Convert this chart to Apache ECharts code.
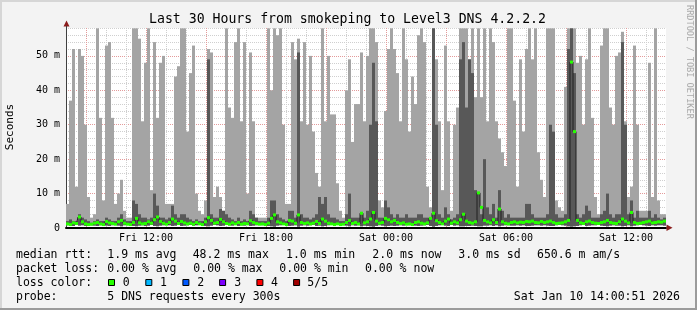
<!DOCTYPE html>
<html><head><meta charset="utf-8">
<script src="https://cdn.jsdelivr.net/npm/echarts@6/dist/echarts.min.js"></script>
<style>html,body{margin:0;padding:0;background:#f3f3f3}#c{width:697px;height:310px}</style>
</head><body><div id="c"></div><script>
// ---- data (9-minute bins, Fri 08:00 -> Sat 14:00) ----
const hoursSpan = 30;
const tickHours = [4, 10, 16, 22, 28];
const tickLabels = ['Fri 12:00', 'Fri 18:00', 'Sat 00:00', 'Sat 06:00', 'Sat 12:00'];
const yTickValues = [0, 10, 20, 30, 40, 50];
const yTickLabels = ['0', '10 m', '20 m', '30 m', '40 m', '50 m'];

// bottom of smoke (ms)
const smokeLow = [
0.8,0.7,0.6,0.9,0.7,0.8,0.6,0.9,0.8,0.7,
0.6,0.8,0.9,0.7,0.6,0.8,0.9,0.7,0.5,0.8,
0.9,0.8,0.6,0.5,0.7,0.8,0.6,0.7,0.9,0.6,
0.5,0.7,0.8,0.9,0.8,0.6,0.7,0.9,0.6,0.7,
0.8,0.9,0.7,0.8,0.9,0.8,0.6,0.5,0.7,0.9,
0.8,0.6,0.7,0.9,0.8,0.7,0.9,0.6,0.8,0.7,
0.9,0.6,0.7,0.8,0.9,0.8,0.9,0.6,0.5,0.4,
0.7,0.8,0.9,0.9,0.6,0.7,0.8,0.4,0.7,0.8,
0.7,0.8,0.9,0.6,0.7,0.5,0.6,0.8,0.9,0.8,
0.9,0.8,0.9,0.7,0.5,0.8,0.7,0.8,0.5,0.7,
0.6,0.5,0.4,0.6,0.8,0.7,0.5,0.6,0.7,0.6,
0.7,0.8,0.7,0.9,0.8,0.9,0.7,0.6,0.7,0.8,
0.9,0.6,0.4,0.6,0.8,0.9,0.7,0.6,0.9,0.7,
0.8,0.5,0.5,0.6,0.6,0.7,0.6,0.5,0.5,0.7,
0.7,0.8,0.6,0.8,0.5,0.7,0.8,0.8,0.7,0.7,
0.8,0.7,0.8,0.6,0.6,0.7,0.8,0.8,0.7,0.8,
0.7,0.6,0.6,0.8,0.9,0.8,0.7,0.5,0.4,0.5,
0.6,0.8,0.9,0.6,0.7,0.8,0.8,0.9,0.7,0.6,
0.5,0.7,0.8,0.7,0.7,0.5,0.6,0.8,0.5,0.7,
0.8,0.9,0.8,0.7,0.6,0.8,0.7,0.8,0.8,0.7];

// top of outer (light) smoke band = slowest ping (ms)
const smokeHigh = [
7,37,52,12,52,50,30,9,3,4,
58,32,8,53,54,32,7,10,14,5,
3,3,58,58,55,31,48,58,11,54,
32,48,50,7,7,7,44,47,58,58,
28,45,53,10,5,4,8,52,51,9,
12,9,5,58,35,32,54,58,31,54,
10,51,31,3,3,3,3,58,40,58,
56,58,30,7,7,54,49,55,31,54,
30,50,28,16,12,58,31,50,33,33,
13,5,3,40,49,25,36,36,51,31,
50,58,58,54,8,6,34,52,58,52,
45,31,58,49,28,44,36,56,58,54,
12,6,58,49,31,11,53,31,5,30,
35,58,58,58,49,58,38,58,38,58,
31,58,54,31,26,22,18,58,58,37,
12,49,28,52,58,49,58,22,14,9,
58,58,58,8,6,5,41,58,58,58,
48,50,30,49,58,32,9,4,53,58,
58,35,30,50,51,57,31,9,12,53,
30,5,5,5,48,9,58,8,4,4];

// top of inner (dark) smoke band (ms)
const smokeDark = [
2,2.5,2,2,4,3,2.5,2,1.5,2,
2.5,2,2,3,2.5,2,2,3,4,2.5,
2,2,8,7,4,3,3,2.5,3,10,
6.5,3,3,2.5,3,6.5,4,3,4,4,
3,2.5,2,2.5,2,2,3,49,4,3,
3,5.5,5,4,3,2.5,2,3,2,2.5,
2,5,4,3,2,2,2,3,8,8,
4,3,2.5,2,5,5,3,51,4,3,
3,2.5,3,4,9,7,9,4,3,3,
2.5,2,2,4,10,3,3,3,4,3,
5,30,48,31,3,3,8,6,4,3,
4,3,3,4,3,3,3,4,4,3,
3,3,58,30,4,3,6,4,2.5,3,
4,49,54,35,49,45,11,10,4,20,
6,4,7,3,11,5,3,4,3,3,
3,3,3,7,7,4,3,3,3,3,
4,30,28,4,3,3,4,52,58,45,
4,3,4,6.5,5,3,3,3,4,5,
10,4,3,4,4,54,30,4,8,3,
5,3,3,3,5,3,4,3,2.5,3];

// median rtt (ms)
const medianRtt = [
1.2,1.0,1.5,1.3,3.2,1.8,1.2,1.0,1.1,1.4,
1.6,1.2,1.0,1.9,1.5,1.3,1.1,1.8,2.2,1.4,
1.1,1.0,1.6,2.8,1.5,1.2,1.3,1.8,1.4,2.4,
3.2,1.9,1.4,1.1,1.6,2.6,2.0,1.3,1.9,1.5,
1.2,1.4,1.1,1.6,1.2,1.0,1.8,3.0,2.2,1.4,
1.6,2.5,1.8,1.3,1.1,1.5,1.2,1.6,1.1,1.3,
1.2,2.1,1.6,1.3,1.1,1.2,1.0,1.4,2.8,3.8,
1.8,1.5,1.2,1.0,2.2,2.0,1.4,3.8,1.6,1.3,
1.5,1.2,1.4,1.9,1.3,2.6,2.0,1.4,1.2,1.0,
1.2,1.0,1.1,1.6,2.2,1.3,1.6,1.2,4.3,1.5,
1.8,2.6,4.5,2.0,1.4,1.6,2.8,2.4,1.8,2.2,
1.6,1.3,1.5,1.1,1.2,1.0,1.6,1.8,1.4,1.2,
1.5,2.8,4.3,2.1,1.6,1.2,2.0,2.6,1.4,1.8,
1.5,2.4,4.0,2.0,1.6,1.4,1.8,10.2,6.0,2.2,
1.8,1.5,2.4,1.6,5.5,1.8,1.4,1.2,1.6,1.8,
1.5,1.7,1.6,1.9,1.8,2.0,1.6,1.5,1.9,1.6,
1.8,2.0,1.6,1.3,1.4,1.5,1.8,2.2,48.2,28.0,
2.2,1.5,1.3,1.8,2.0,1.6,1.4,1.3,1.6,1.8,
2.2,1.6,1.4,1.3,1.8,2.6,2.0,1.5,4.5,1.6,
1.3,1.4,1.6,1.8,2.0,1.5,1.6,1.8,1.7,2.0];

const lossLabels = ['0', '1', '2', '3', '4', '5/5'];
const lossColors = ['#26ff00', '#00b8ff', '#0059ff', '#7e00ff', '#ff0000', '#a10000'];

// ---- chart ----
const N = smokeHigh.length;
const smokeData = smokeHigh.map((h, i) => [i, smokeLow[i], h, smokeDark[i]]);
const medLine = medianRtt.map((m, i) => [i + 0.5, m]);
const medBand = medianRtt.map((m, i) => [i, m]);

const FONT = 'DejaVu Sans Mono';
const GRID_MINOR = '#cfcfcf';
const GRID_MAJOR = '#e39a9a';

function renderSmoke(params, api) {
  const i = api.value(0), lo = api.value(1), hi = api.value(2), dk = api.value(3);
  const a = api.coord([i, hi]);
  const b = api.coord([i + 1, lo]);
  const c = api.coord([i, dk]);
  const w = b[0] - a[0];
  const children = [{ type: 'rect', shape: { x: a[0], y: a[1], width: w, height: b[1] - a[1] }, style: { fill: '#a4a4a4' } }];
  if (dk > lo) children.push({ type: 'rect', shape: { x: a[0], y: c[1], width: w, height: b[1] - c[1] }, style: { fill: '#585858' } });
  return { type: 'group', children };
}
function renderMedian(params, api) {
  const i = api.value(0), m = api.value(1);
  const a = api.coord([i, m]);
  const b = api.coord([i + 1, m]);
  return { type: 'rect', shape: { x: a[0], y: a[1] - 1.5, width: b[0] - a[0], height: 3 }, style: { fill: lossColors[0] } };
}

const text = (x, y, t, extra) => Object.assign({ type: 'text', x, y, style: Object.assign({ text: t, font: '11.5px "' + FONT + '"', fill: '#000', verticalAlign: 'middle' }, extra || {}) });

const graphics = [];
// frame shading
graphics.push({ type: 'rect', shape: { x: 0, y: 0, width: 697, height: 2 }, style: { fill: '#d6d6d6' } });
graphics.push({ type: 'rect', shape: { x: 0, y: 0, width: 2, height: 310 }, style: { fill: '#d6d6d6' } });
graphics.push({ type: 'rect', shape: { x: 0, y: 308, width: 697, height: 2 }, style: { fill: '#9b9b9b' } });
graphics.push({ type: 'rect', shape: { x: 695, y: 0, width: 2, height: 310 }, style: { fill: '#9b9b9b' } });
// title
graphics.push(text(347.5, 19.5, 'Last 30 Hours from smokeping to Level3 DNS 4.2.2.2', { font: '13.2px "' + FONT + '"', align: 'center' }));
// y name
graphics.push({ type: 'text', x: 10.5, y: 127, rotation: Math.PI / 2, style: { text: 'Seconds', font: '11px "' + FONT + '"', fill: '#000', align: 'center', verticalAlign: 'middle' } });
// watermark
graphics.push({ type: 'text', x: 689, y: 5, rotation: -Math.PI / 2, style: { text: 'RRDTOOL / TOBI OETIKER', font: '8.6px "' + FONT + '"', fill: '#aaaaaa', align: 'left', verticalAlign: 'middle' } });
// arrows
graphics.push({ type: 'polygon', shape: { points: [[63.5, 26.5], [69.5, 26.5], [66.5, 20.5]] }, style: { fill: '#8b1c1c' }, z: 100 });
graphics.push({ type: 'line', shape: { x1: 66.5, y1: 26, x2: 66.5, y2: 28 }, style: { stroke: '#404040', lineWidth: 1 }, z: 100 });
graphics.push({ type: 'polygon', shape: { points: [[666.5, 224.5], [666.5, 231], [672.5, 227.7]] }, style: { fill: '#8b1c1c' }, z: 100 });
// legend rows
const rows = [
  [255, [[16, 'median rtt:'], [107.3, '1.9 ms avg'], [192.7, '48.2 ms max'], [286, '1.0 ms min'], [372.3, '2.0 ms now'], [458.3, '3.0 ms sd'], [537, '650.6 m am/s']]],
  [269, [[16, 'packet loss:'], [107.3, '0.00 % avg'], [193.3, '0.00 % max'], [279.3, '0.00 % min'], [365, '0.00 % now']]],
  [283, [[16, 'loss color:']]],
  [297, [[16, 'probe:'], [107.3, '5 DNS requests every 300s']]]
];
rows.forEach(r => r[1].forEach(it => graphics.push(text(it[0], r[0], it[1]))));
const boxX = [108.5, 145.8, 182.9, 219.6, 256.9, 293.6];
const labX = [122.7, 160, 197.3, 234.3, 271, 307.3];
lossLabels.forEach((l, k) => {
  graphics.push({ type: 'rect', shape: { x: boxX[k], y: 279.5, width: 6, height: 6 }, style: { fill: lossColors[k], stroke: '#000', lineWidth: 1 } });
  graphics.push(text(labX[k], 283, l));
});
graphics.push(text(680, 297, 'Sat Jan 10 14:00:51 2026', { align: 'right' }));

const option = {
  animation: false,
  backgroundColor: '#f3f3f3',
  textStyle: { fontFamily: FONT },
  grid: { left: 66, right: 31, top: 28, height: 200, show: true, backgroundColor: '#ffffff', borderWidth: 0, containLabel: false, outerBoundsMode: 'none' },
  xAxis: [
    { type: 'value', min: 0, max: N, show: false, splitLine: { show: false } },
    { type: 'value', min: 0, max: hoursSpan, interval: 1, position: 'bottom',
      axisLine: { show: true, onZero: false, lineStyle: { color: '#000', width: 2 } },
      axisTick: { show: false },
      axisLabel: { margin: 5, color: '#000', fontFamily: FONT, fontSize: 10,
        formatter: v => { const k = tickHours.indexOf(Math.round(v)); return k >= 0 ? tickLabels[k] : ''; } },
      splitLine: { show: true, showMaxLine: false, lineStyle: { color: [GRID_MINOR, GRID_MAJOR, GRID_MINOR], width: 1, type: [1, 1] } } }
  ],
  yAxis: [
    { type: 'value', min: 0, max: 58.1, interval: 2,
      axisLine: { show: true, lineStyle: { color: '#404040', width: 1 } },
      axisTick: { show: false },
      axisLabel: { margin: 6, color: '#000', fontFamily: FONT, fontSize: 10,
        formatter: v => { const k = yTickValues.indexOf(Math.round(v)); return (k >= 0 && Math.abs(v - Math.round(v)) < 1e-6) ? yTickLabels[k] : ''; } },
      splitLine: { show: true, showMaxLine: false, lineStyle: { color: [GRID_MAJOR, GRID_MINOR, GRID_MINOR, GRID_MINOR, GRID_MINOR], width: 1, type: [1, 1] } } }
  ],
  series: [
    { type: 'custom', xAxisIndex: 0, yAxisIndex: 0, renderItem: renderSmoke, data: smokeData, encode: { x: 0, y: [1, 2] }, clip: true, z: 2, silent: true },
    { type: 'line', xAxisIndex: 0, yAxisIndex: 0, data: medLine, step: 'middle', symbol: 'none', lineStyle: { color: '#202020', width: 1 }, z: 3, silent: true },
    { type: 'custom', xAxisIndex: 0, yAxisIndex: 0, renderItem: renderMedian, data: medBand, encode: { x: 0, y: 1 }, clip: true, z: 4, silent: true }
  ],
  graphic: graphics
};
const chart = echarts.init(document.getElementById('c'));
chart.setOption(option);
</script></body></html>
